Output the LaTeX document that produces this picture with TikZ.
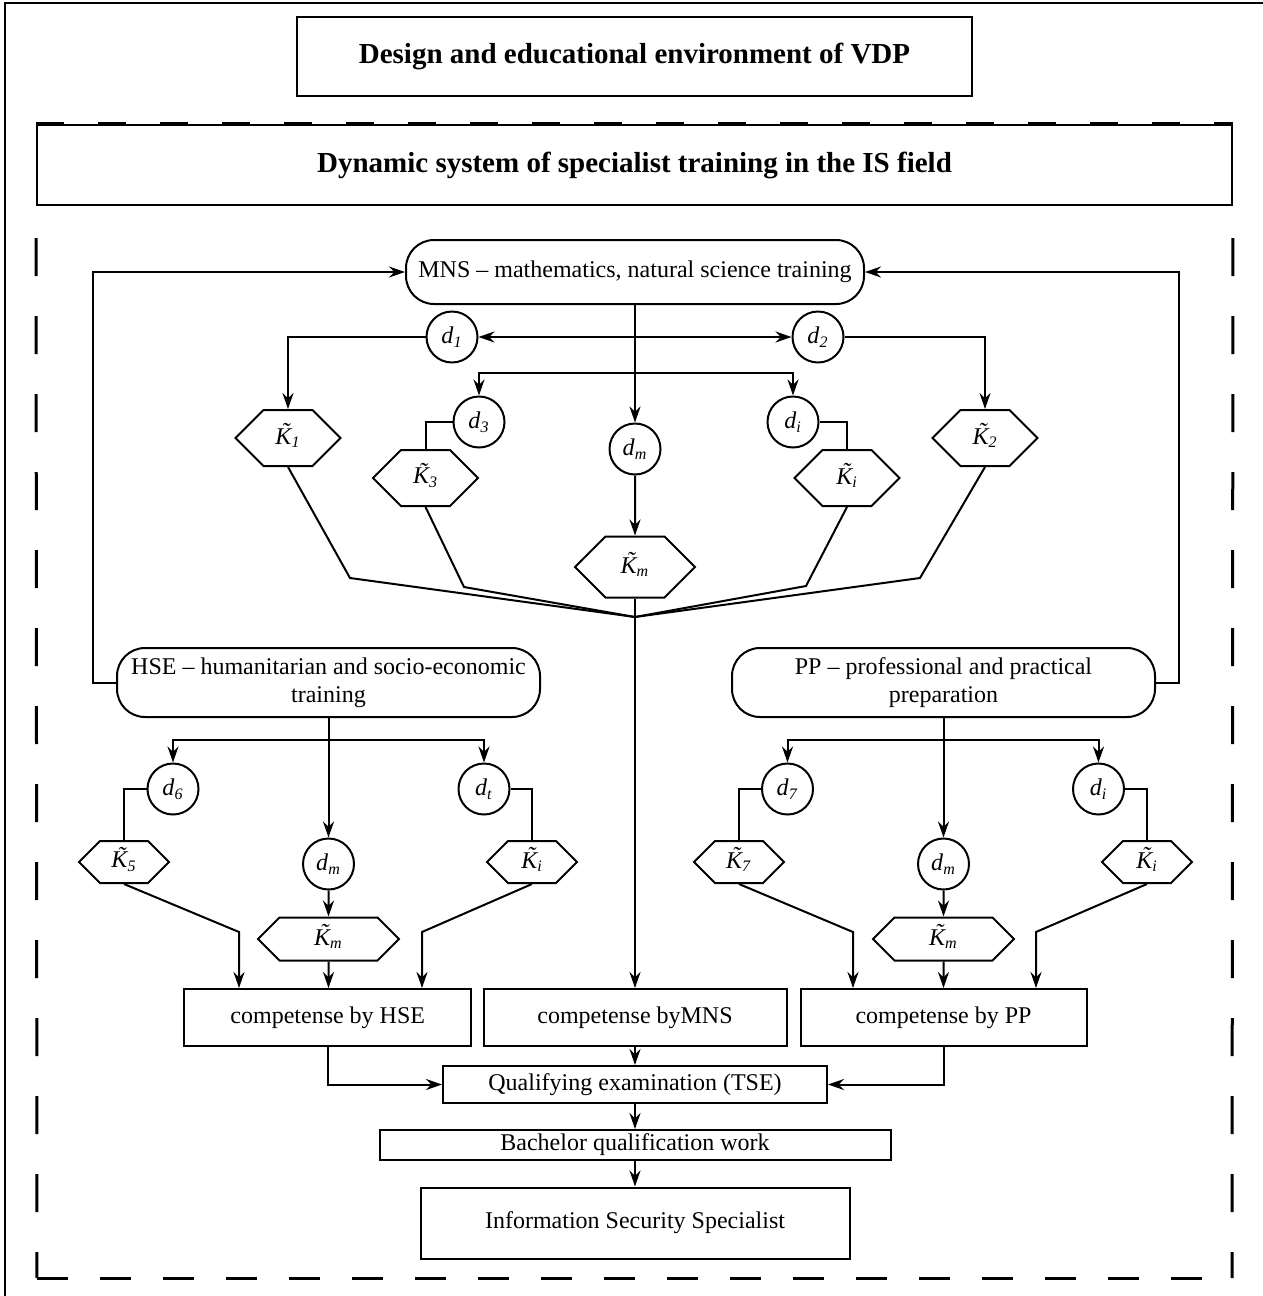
\documentclass[tikz,border=0pt]{standalone}
\usepackage{fontspec}
\setmainfont{Liberation Serif}
\usetikzlibrary{shapes.symbols,arrows.meta}
\tikzset{bx/.style={draw,align=center,font=\fontsize{12}{14}\selectfont,inner sep=2pt},
 tl/.style={bx,font=\fontsize{14.5}{17}\selectfont\bfseries},
 rb/.style={bx,rounded corners=14pt},
 dc/.style={draw,circle,minimum size=25.5pt,inner sep=0pt,font=\fontsize{12}{14}\selectfont},
 hx/.style 2 args={draw,signal,signal to=west and east,signal from=nowhere,signal pointer angle=90,
  minimum width=#1,minimum height=#2,inner sep=0pt,font=\fontsize{12}{14}\selectfont},
 ar/.style={-{Stealth[length=8pt,width=5.5pt]}},
 arb/.style={{Stealth[length=8pt,width=5.5pt]}-{Stealth[length=8pt,width=5.5pt]}}}
\newcommand{\dn}[1]{\textit{d}\textsubscript{\textit{#1}}}
\newcommand{\kn}[1]{{\itshape\ooalign{K\cr\hidewidth\raisebox{0.2em}{\hspace{0.15em}\char"02DC}\hidewidth\cr}}\textsubscript{\textit{#1}}}

\begin{document}
\begin{tikzpicture}[x=0.5pt,y=-0.5pt,line width=1pt]
\useasboundingbox (0,0) rectangle (1263,1296);
\draw (5,3) rectangle (1268,1301);
\node[tl,minimum width=337.5pt,minimum height=39.5pt](env) at (634.5,56.5){Design and educational environment of VDP};
\node[tl,minimum width=597.5pt,minimum height=40pt](dyn) at (634.5,165){Dynamic system of specialist training in the IS field};
\draw[line width=2pt,dash pattern=on 14pt off 17pt](dyn.north west)--(dyn.north east);
\draw[line width=1.5pt,dash pattern=on 19pt off 20pt,dash phase=23pt](dyn.south west)--(37,1278);
\draw[line width=1.5pt,dash pattern=on 19pt off 20pt,dash phase=23pt](dyn.south east)--(1232,1278);
\draw[line width=1.5pt,dash pattern=on 15.5pt off 16pt](37,1278)--(1232,1278);
\node[rb,minimum width=229pt,minimum height=32pt](mns) at (635,272){MNS – mathematics, natural science training};
\node[rb,minimum width=211.5pt,minimum height=34.5pt](hse) at (328.5,682.5){HSE – humanitarian and socio-economic\\training};
\node[rb,minimum width=211.5pt,minimum height=34.5pt](pp) at (943.5,682.5){PP – professional and practical\\preparation};
\node[dc](d1) at (452,337){\dn{1}};
\node[dc](d2) at (818,337){\dn{2}};
\node[dc](d3) at (479,422){\dn{3}};
\node[dc](di) at (793,422){\dn{i}};
\node[dc](dm) at (635,449){\dn{m}};
\node[hx={52.5pt}{28pt}](k1) at (288,438){\kn{1}};
\node[hx={52.5pt}{28pt}](k2) at (985,438){\kn{2}};
\node[hx={52.5pt}{28pt}](k3) at (425.5,478){\kn{3}};
\node[hx={52.5pt}{28pt}](ki) at (847,478){\kn{i}};
\node[hx={60pt}{30.5pt}](km) at (635,567){\kn{m}};
\node[dc](d6) at (173,789){\dn{6}};
\node[dc](dt) at (484,789){\dn{t}};
\node[dc](dmh) at (328.5,864){\dn{m}};
\node[hx={45pt}{21pt}](k5) at (124,862){\kn{5}};
\node[hx={45pt}{21pt}](kt) at (532,862){\kn{i}};
\node[hx={70.5pt}{21.5pt}](kmh) at (328.5,939){\kn{m}};
\node[dc](d7) at (787.5,789){\dn{7}};
\node[dc](dip) at (1098.5,789){\dn{i}};
\node[dc](dmp) at (943.5,864){\dn{m}};
\node[hx={45pt}{21pt}](k7) at (739,862){\kn{7}};
\node[hx={45pt}{21pt}](kip) at (1147,862){\kn{i}};
\node[hx={70.5pt}{21.5pt}](kmp) at (943.5,939){\kn{m}};
\node[bx,minimum width=143.5pt,minimum height=28.5pt](ch) at (327.75,1017.5){competense by HSE};
\node[bx,minimum width=151.5pt,minimum height=28.5pt](cm) at (635,1017.5){competense byMNS};
\node[bx,minimum width=143pt,minimum height=28.5pt](cp) at (943.5,1017.5){competense by PP};
\node[bx,minimum width=192pt,minimum height=18.5pt](tse) at (635,1084.5){Qualifying examination (TSE)};
\node[bx,inner sep=1pt,minimum width=255.5pt,minimum height=15pt](bqw) at (635,1145){Bachelor qualification work};
\node[bx,minimum width=214.5pt,minimum height=35.5pt](iss) at (635,1223){Information Security Specialist};
\coordinate(m1) at (635,373);\coordinate(jm) at (635,617);
\coordinate(mh) at (328.5,740);\coordinate(mp) at (943.5,740);
\coordinate(h1) at (239,932);\coordinate(h2) at (422,932);
\coordinate(p1) at (853,932);\coordinate(p2) at (1036,932);
\draw[ar](mns)--(dm);\draw[arb](d1)--(d2);
\draw[ar](m1)-|(d3);\draw[ar](m1)-|(di);
\draw[ar](d1)-|(k1);\draw[ar](d2)-|(k2);\draw(d3)-|(k3);\draw(di)-|(ki);
\draw[ar](dm)--(km);
\draw(k1.south)--(350,578)--(jm);\draw(k3.south)--(464,587)--(jm);
\draw(ki.south)--(806,586)--(jm);\draw(k2.south)--(920,578)--(jm);
\draw(km)--(jm);\draw[ar](jm)--(cm);
\draw[ar](hse.west)--++(-23,0)|-(mns.west);\draw[ar](pp.east)--++(23,0)|-(mns.east);
\draw[ar](hse)--(dmh);\draw[ar](mh)-|(d6);\draw[ar](mh)-|(dt);
\draw(d6)-|(k5);\draw(dt)-|(kt);\draw[ar](dmh)--(kmh);
\draw[ar](k5.south)--(h1)--(h1|-ch.north);\draw[ar](kt.south)--(h2)--(h2|-ch.north);
\draw[ar](kmh)--(kmh|-ch.north);
\draw[ar](pp)--(dmp);\draw[ar](mp)-|(d7);\draw[ar](mp)-|(dip);
\draw(d7)-|(k7);\draw(dip)-|(kip);\draw[ar](dmp)--(kmp);
\draw[ar](k7.south)--(p1)--(p1|-cp.north);\draw[ar](kip.south)--(p2)--(p2|-cp.north);
\draw[ar](kmp)--(kmp|-cp.north);
\draw[ar](cm)--(tse);\draw[ar](ch)|-(tse);\draw[ar](cp)|-(tse);
\draw[ar](tse)--(bqw);\draw[ar](bqw)--(iss);
\end{tikzpicture}
\end{document}
